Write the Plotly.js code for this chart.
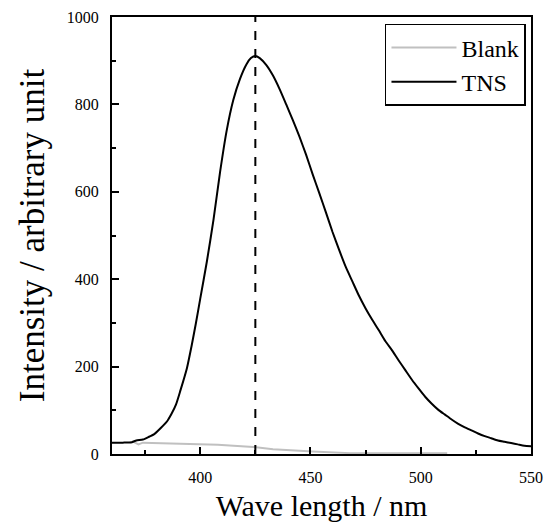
<!DOCTYPE html>
<html>
<head>
<meta charset="utf-8">
<script src="https://cdn.plot.ly/plotly-3.0.1.min.js"></script>
<style>html,body{margin:0;padding:0;background:#fff;}#chart{width:545px;height:529px;}</style>
</head>
<body>
<div id="chart"></div>
<script>
// TNS emission spectrum
const tnsWavelength = [360,365,369,371,374,377,379,382,385,387,389,391,394,396,398,400,403,406,409,412,415,418,421,423,425,427,430,433,436,439,442,445,448,451,454,457,460,463,466,469,472,475,478,481,484,487,490,493,496,499,502,505,508,511,514,517,520,523,526,529,532,535,538,541,544,547,550];
const tnsIntensity = [26,26,27,31,33,40,45,59,75,92,113,145,197,245,298,355,440,535,645,740,810,858,892,906,911,906,890,866,835,800,764,726,685,640,597,553,508,467,428,395,362,333,307,283,258,237,214,192,170,150,131,115,101,90,79,69,61,54,47,41,36,31,28,25,22,19,18];
// Blank spectrum (stepwise)
const blankWavelength = [370,372,374,408,424,433,451,468,512];
const blankIntensity = [27,22,26,21,16,11,6,2,2];
// Peak marker
const peakWavelength = 425;
const xTickVals = [400,450,500,550];
const yTickVals = [0,200,400,600,800,1000];

const serif = "Liberation Serif, Times New Roman, serif";
const traces = [
  {x: blankWavelength, y: blankIntensity, name: "Blank", mode: "lines",
   line: {color: "#c0c0c0", width: 2, shape: "linear"}},
  {x: tnsWavelength, y: tnsIntensity, name: "TNS", mode: "lines",
   line: {color: "#000000", width: 2, shape: "spline", smoothing: 0.6}}
];
const layout = {
  width: 545, height: 529,
  margin: {l: 112, r: 14, t: 17, b: 75},
  paper_bgcolor: "#fff", plot_bgcolor: "#fff",
  font: {family: serif, color: "#000"},
  showlegend: true,
  legend: {x: 0.988, y: 0.984, xanchor: "right", yanchor: "top",
    bgcolor: "#fff", bordercolor: "#000", borderwidth: 1.5,
    font: {family: serif, size: 24, color: "#000"}, itemwidth: 65,
    tracegroupgap: 0},
  xaxis: {range: [360, 550], tickvals: xTickVals, ticks: "inside", ticklen: 7, tickwidth: 2,
    tickcolor: "#000", showline: true, linecolor: "#000", linewidth: 2, mirror: true,
    showgrid: false, zeroline: false, tickfont: {family: serif, size: 16}, ticklabelstandoff: 8,
    minor: {dtick: 25, tick0: 0, ticks: "inside", ticklen: 4, tickwidth: 2, tickcolor: "#000", showgrid: false},
    title: {text: "Wave length / nm", font: {family: serif, size: 30}, standoff: 10}},
  yaxis: {range: [0, 1000], tickvals: yTickVals, ticks: "inside", ticklen: 7, tickwidth: 2,
    tickcolor: "#000", showline: true, linecolor: "#000", linewidth: 2, mirror: true,
    showgrid: false, zeroline: false, tickfont: {family: serif, size: 16}, ticklabelstandoff: 8,
    minor: {dtick: 100, tick0: 0, ticks: "inside", ticklen: 4, tickwidth: 2, tickcolor: "#000", showgrid: false},
    title: {text: "Intensity / arbitrary unit", font: {family: serif, size: 35}, standoff: 12}},
  shapes: [{type: "line", xref: "x", yref: "paper", x0: peakWavelength, x1: peakWavelength, y0: 0, y1: 1,
    line: {color: "#000", width: 2, dash: "dash"}}]
};
Plotly.newPlot("chart", traces, layout, {displayModeBar: false, staticPlot: true});
</script>
</body>
</html>
